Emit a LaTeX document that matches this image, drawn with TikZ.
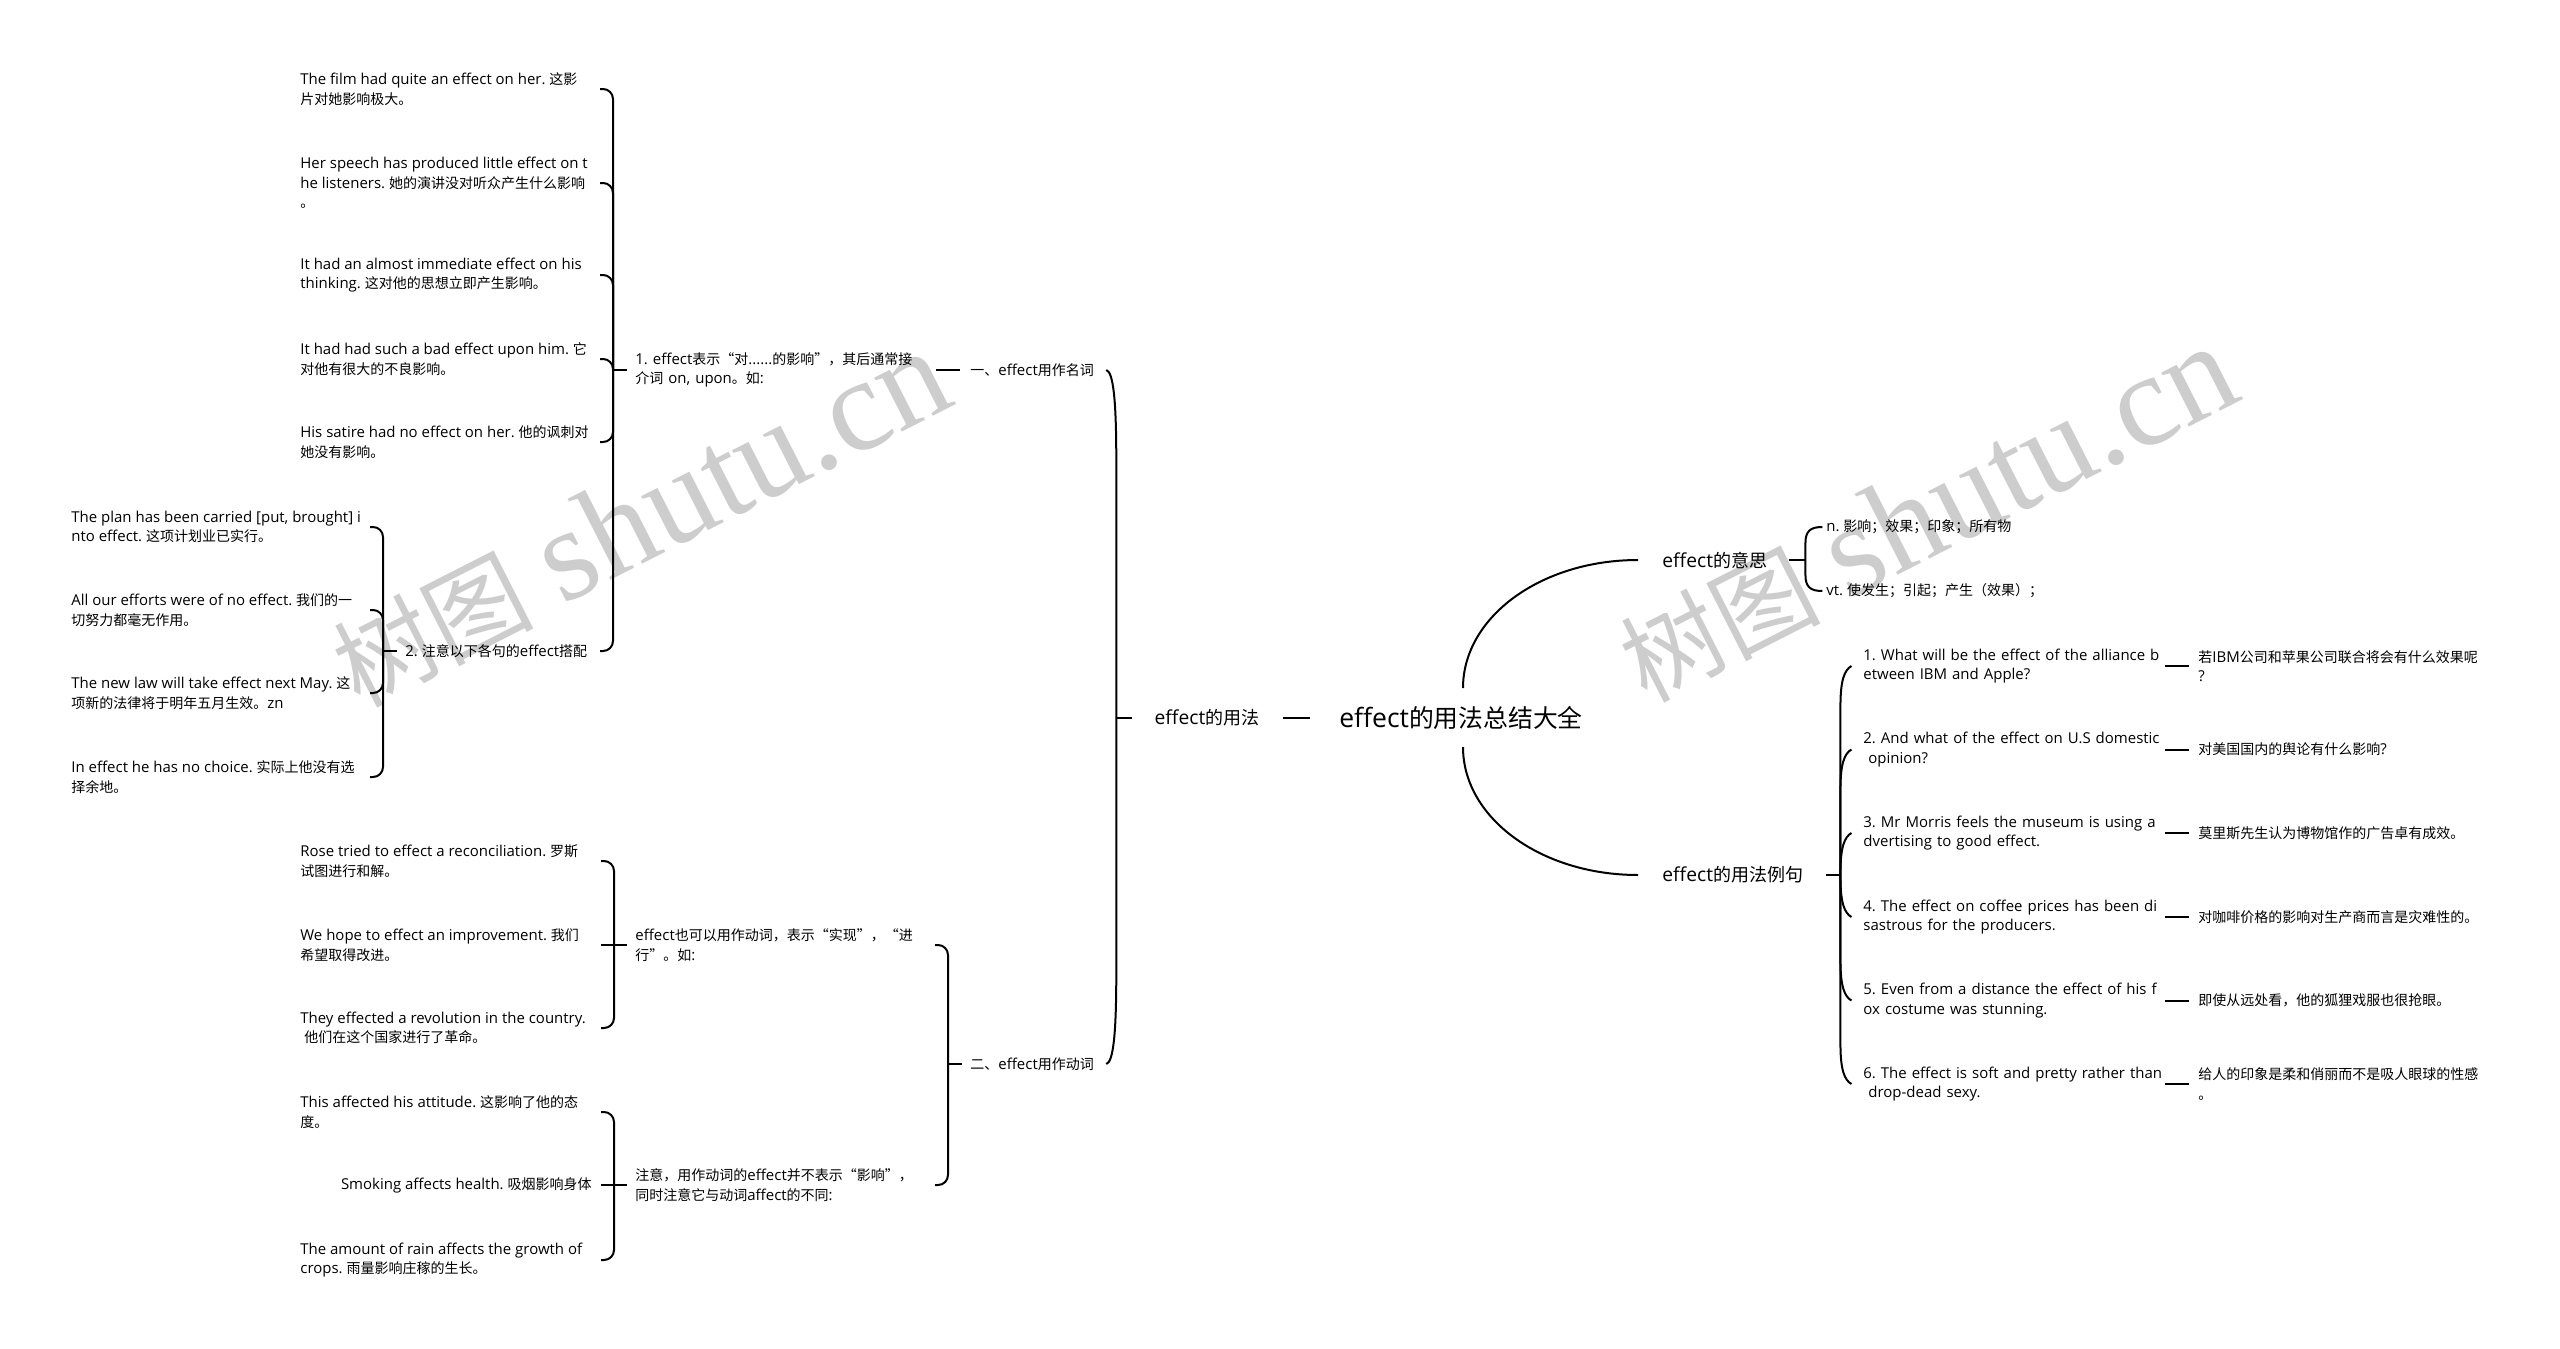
\documentclass[tikz,border=0pt]{standalone}
\usepackage{fontspec}
\setmainfont{Open Sans}[Scale=1.07]
\newfontfamily\latf{Open Sans}[Scale=1.07]
\newfontfamily\cjkf{Noto Sans CJK SC}
\newfontfamily\wmserif{Liberation Serif}
\usetikzlibrary{calc}
\newXeTeXintercharclass\cjkcls
\newcount\cjkcnt
\newcommand\setcjkrange[2]{\cjkcnt=#1\relax\loop\XeTeXcharclass\cjkcnt=\cjkcls\relax\advance\cjkcnt by 1\relax\ifnum\cjkcnt<#2\relax\repeat}
\setcjkrange{"4E00}{"A000}
\setcjkrange{"3000}{"3040}
\setcjkrange{"FF00}{"FFF0}
\XeTeXcharclass"2018=\cjkcls
\XeTeXcharclass"2019=\cjkcls
\XeTeXcharclass"201C=\cjkcls
\XeTeXcharclass"201D=\cjkcls
\XeTeXinterchartoks 0 \cjkcls = {\cjkf}
\XeTeXinterchartoks 4095 \cjkcls = {\cjkf}
\XeTeXinterchartoks \cjkcls 0 = {\latf}
\XeTeXinterchartoks \cjkcls 4095 = {\latf}
\XeTeXinterchartokenstate=1
\frenchspacing
\definecolor{wmgray}{RGB}{205,205,205}
\tikzset{
  sm/.style={inner sep=0pt, align=left, font=\frenchspacing\fontsize{7}{9.8}\selectfont, text=black},
  md/.style={inner sep=0pt, font=\fontsize{9}{11}\selectfont, text=black},
  rt/.style={inner sep=0pt, font=\fontsize{12.4}{14}\selectfont, text=black},
  ln/.style={line width=1pt, black},
  hk/.style={line width=1pt, black, rounded corners=5pt},
  wm/.style={inner sep=0pt, rotate=27, text=wmgray, font=\fontsize{50}{60}\selectfont},
}
\begin{document}
\begin{tikzpicture}[x=0.5pt,y=-0.5pt]
\useasboundingbox (0,0) rectangle (2560,1349);
\fill[white] (0,0) rectangle (2560,1349);
% watermarks
\node[wm] (wm1) at (640,519) {树图 {\wmserif\fontsize{66}{70}\selectfont shutu.cn}};
\node[wm] (wm2) at (1927,514) {树图 {\wmserif\fontsize{66}{70}\selectfont shutu.cn}};
% main nodes
\node[rt] (root) at (1461,718) {effect的用法总结大全};
\node[md] (L1) at (1207,718) {effect的用法};
\node[sm, anchor=west] (A) at (970,370) {一、effect用作名词};
\node[sm, anchor=west] (B) at (970,1064) {二、effect用作动词};
\node[sm, anchor=west, text width=145pt] (C) at (635,370) {\mbox{1. effect表示“对......的影响”，其后通常接}\\\mbox{介词 on, upon。如:}};
\node[sm, anchor=west] (s1) at (300,89) {The film had quite an effect on her. 这影\\片对她影响极大。};
\node[sm, anchor=west] (s2) at (300,183) {Her speech has produced little effect on t\\he listeners. 她的演讲没对听众产生什么影响\\。};
\node[sm, anchor=west] (s3) at (300,275) {It had an almost immediate effect on his\\thinking. 这对他的思想立即产生影响。};
\node[sm, anchor=west] (s4) at (300,359) {It had had such a bad effect upon him. 它\\对他有很大的不良影响。};
\node[sm, anchor=west] (s5) at (300,442) {His satire had no effect on her. 他的讽刺对\\她没有影响。};
\node[sm, anchor=west] (N2) at (405,651) {2. 注意以下各句的effect搭配};
\node[sm, anchor=west] (t1) at (71,527) {The plan has been carried [put, brought] i\\nto effect. 这项计划业已实行。};
\node[sm, anchor=west] (t2) at (71,610) {All our efforts were of no effect. 我们的一\\切努力都毫无作用。};
\node[sm, anchor=west] (t3) at (71,693) {The new law will take effect next May. 这\\项新的法律将于明年五月生效。zn};
\node[sm, anchor=west] (t4) at (71,777) {In effect he has no choice. 实际上他没有选\\择余地。};
\node[sm, anchor=west] (D1) at (635,945) {effect也可以用作动词，表示“实现”，“进\\行”。如:};
\node[sm, anchor=west] (D2) at (635,1185) {注意，用作动词的effect并不表示“影响”，\\同时注意它与动词affect的不同:};
\node[sm, anchor=west] (u1) at (300,861) {Rose tried to effect a reconciliation. 罗斯\\试图进行和解。};
\node[sm, anchor=west] (u2) at (300,945) {We hope to effect an improvement. 我们\\希望取得改进。};
\node[sm, anchor=west] (u3) at (300,1028) {They effected a revolution in the country.\\\mbox{ 他们在这个国家进行了革命。}};
\node[sm, anchor=west] (v1) at (300,1112) {This affected his attitude. 这影响了他的态\\度。};
\node[sm, anchor=east] (v2) at (592,1185) {Smoking affects health. 吸烟影响身体};
\node[sm, anchor=west] (v3) at (300,1260) {The amount of rain affects the growth of\\crops. 雨量影响庄稼的生长。};
% right side
\node[md, anchor=west] (R1) at (1662,560) {effect的意思};
\node[md, anchor=west] (R2) at (1662,875) {effect的用法例句};
\node[sm, anchor=west] (r1) at (1826,527) {n. 影响；效果；印象；所有物};
\node[sm, anchor=west] (r2) at (1826,591) {vt. 使发生；引起；产生（效果）；};
\node[sm, anchor=west, text width=145.5pt] (e1) at (1863,666) {\mbox{1. What will be the effect of the alliance b}\\\mbox{etween IBM and Apple?}};
\node[sm, anchor=west, text width=145.5pt] (e2) at (1863,749.5) {\mbox{2. And what of the effect on U.S domestic}\\\mbox{ opinion?}};
\node[sm, anchor=west, text width=145.5pt] (e3) at (1863,833) {\mbox{3. Mr Morris feels the museum is using a}\\\mbox{dvertising to good effect.}};
\node[sm, anchor=west, text width=145.5pt] (e4) at (1863,917) {\mbox{4. The effect on coffee prices has been di}\\\mbox{sastrous for the producers.}};
\node[sm, anchor=west, text width=145.5pt] (e5) at (1863,1000.5) {\mbox{5. Even from a distance the effect of his f}\\\mbox{ox costume was stunning.}};
\node[sm, anchor=west, text width=145.5pt] (e6) at (1863,1084) {\mbox{6. The effect is soft and pretty rather than}\\\mbox{ drop-dead sexy.}};
\node[sm, anchor=west] (f1) at (2198,666) {若IBM公司和苹果公司联合将会有什么效果呢\\?};
\node[sm, anchor=west] (f2) at (2198,749.5) {对美国国内的舆论有什么影响?};
\node[sm, anchor=west] (f3) at (2198,833) {莫里斯先生认为博物馆作的广告卓有成效。};
\node[sm, anchor=west] (f4) at (2198,917) {对咖啡价格的影响对生产商而言是灾难性的。};
\node[sm, anchor=west] (f5) at (2198,1000.5) {即使从远处看，他的狐狸戏服也很抢眼。};
\node[sm, anchor=west] (f6) at (2198,1084) {给人的印象是柔和俏丽而不是吸人眼球的性感\\。};
% root connectors
\draw[ln] ($(root.center)+(2,-30)$) .. controls ($(root.center)+(2,-101)$) and ($(R1.west)+(-121,0)$) .. ($(R1.west)+(-24,0)$);
\draw[ln] ($(root.center)+(2,29)$) .. controls ($(root.center)+(2,100)$) and ($(R2.west)+(-121,0)$) .. ($(R2.west)+(-24,0)$);
\draw[ln] ($(L1.east)+(23,0)$) -- ($(root.west)+(-29,0)$);
% L1 big bracket
\coordinate (J0) at ($(L1.west)+(-38,0)$);
\draw[ln] ($(L1.west)+(-22,0)$) -- (J0);
\draw[ln] (J0) -- ($(J0 |- A.east)+(0,90)$) .. controls ($(J0 |- A.east)+(0,30)$) and ($(J0 |- A.east)+(-3,2)$) .. ($(J0 |- A.east)+(-10,0)$);
\draw[ln] (J0) -- ($(J0 |- B.east)+(0,-90)$) .. controls ($(J0 |- B.east)+(0,-30)$) and ($(J0 |- B.east)+(-3,-2)$) .. ($(J0 |- B.east)+(-10,0)$);
% A - C
\draw[ln] ($(C.east)+(10,0)$) -- ($(A.west)+(-10,0)$);
% C bracket
\coordinate (J1) at ($(C.west)+(-22,0)$);
\draw[ln] ($(C.west)+(-8,0)$) -- (J1);
\foreach \c in {s1,s2,s3,s4,s5,N2} \draw[hk] (J1) |- ($(J1 |- \c.east)+(-13,0)$);
% N2 bracket
\coordinate (J2) at ($(N2.west)+(-22,0)$);
\draw[ln] ($(N2.west)+(-8,0)$) -- (J2);
\foreach \c in {t1,t2,t3,t4} \draw[hk] (J2) |- ($(J2 |- \c.east)+(-13,0)$);
% B bracket
\coordinate (J3) at ($(B.west)+(-22,0)$);
\draw[ln] ($(B.west)+(-8,0)$) -- (J3);
\foreach \c in {D1,D2} \draw[hk] (J3) |- ($(J3 |- \c.east)+(-13,0)$);
% D1 bracket
\coordinate (J4) at ($(D1.west)+(-21,0)$);
\draw[ln] ($(D1.west)+(-8,0)$) -- (J4);
\foreach \c in {u1,u3} \draw[hk] (J4) |- ($(J4 |- \c.east)+(-13,0)$);
\draw[ln] (J4) -- ($(J4 |- u2.east)+(-13,0)$);
% D2 bracket
\coordinate (J5) at ($(D2.west)+(-21,0)$);
\draw[ln] ($(D2.west)+(-8,0)$) -- (J5);
\foreach \c in {v1,v3} \draw[hk] (J5) |- ($(J5 |- \c.east)+(-13,0)$);
\draw[ln] (J5) -- ($(J5 |- v2.east)+(-13,0)$);
% R1 brace
\coordinate (J6) at ($(R1.east)+(38,0)$);
\draw[ln] ($(R1.east)+(22,0)$) -- (J6);
\draw[ln] (J6) -- ($(J6 |- r1.west)+(0,16)$) .. controls ($(J6 |- r1.west)+(0,4)$) and ($(J6 |- r1.west)+(5,0)$) .. ($(J6 |- r1.west)+(17,0)$);
\draw[ln] (J6) -- ($(J6 |- r2.west)+(0,-16)$) .. controls ($(J6 |- r2.west)+(0,-4)$) and ($(J6 |- r2.west)+(5,0)$) .. ($(J6 |- r2.west)+(17,0)$);
% R2 brace
\coordinate (J7) at ($(R2.east)+(37,0)$);
\draw[ln] ($(R2.east)+(23,0)$) -- (J7);
\foreach \c in {e1,e2,e3} \draw[ln] (J7) -- ($(J7 |- \c.west)+(0,40)$) .. controls ($(J7 |- \c.west)+(0,14)$) and ($(J7 |- \c.west)+(4,4)$) .. ($(J7 |- \c.west)+(11,0)$);
\foreach \c in {e4,e5,e6} \draw[ln] (J7) -- ($(J7 |- \c.west)+(0,-40)$) .. controls ($(J7 |- \c.west)+(0,-14)$) and ($(J7 |- \c.west)+(4,-4)$) .. ($(J7 |- \c.west)+(11,0)$);
% example -> translation
\foreach \i in {1,...,6} \draw[ln] ($(e\i.east)+(10,0)$) -- ($(f\i.west)+(-9,0)$);
\end{tikzpicture}
\end{document}
